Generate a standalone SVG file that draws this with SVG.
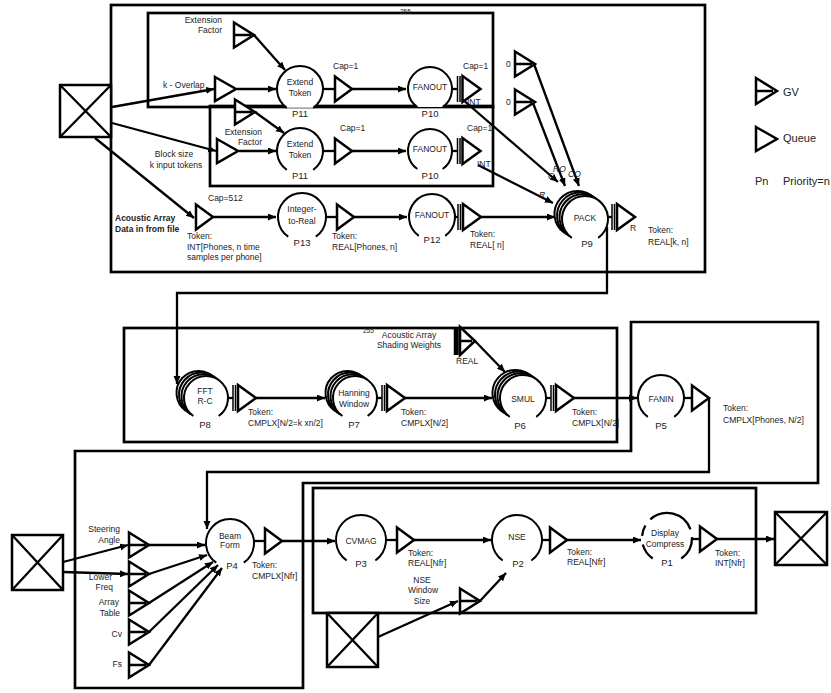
<svg xmlns="http://www.w3.org/2000/svg" width="831" height="693" viewBox="0 0 831 693">
<defs>
<marker id="ah" markerUnits="userSpaceOnUse" markerWidth="9" markerHeight="8" refX="8" refY="3.5" orient="auto"><path d="M0,0 L8,3.5 L0,7 Z" fill="#000"/></marker>
<g id="q"><path d="M0,-12.5 L17,0 L0,12.5 Z"/></g>
<g id="qw"><path d="M0,-12 L21,0 L0,12 Z"/></g>
<g id="gv"><path d="M0,-12.5 L20,0 L0,12.5 Z M0,0 H17"/></g>
<g id="tq"><path d="M-5,-13 V13 M-2.5,-13 V13" stroke-width="1.5"/><path d="M0,-13 L18,0 L0,13 Z"/></g>
</defs>
<style>
.box{fill:none;stroke:#000;stroke-width:2.7}
.sym{fill:#fff;stroke:#000;stroke-width:2.5}
.c{fill:#fff;stroke:#000;stroke-width:2}
.ln{stroke:#000;stroke-width:2.3;fill:none}
.ar{stroke:#000;stroke-width:2.3;fill:none;marker-end:url(#ah)}
.xb{fill:#fff;stroke:#000;stroke-width:2.5}
text{font-family:"Liberation Sans",Arial,sans-serif;font-size:8.5px;fill:#222}
.m{text-anchor:middle}
.e{text-anchor:end}
.p{font-size:9.5px}
.b{font-weight:bold}
.i{font-style:italic}
.lg{font-size:11px}
.s{font-size:6.5px}
</style>

<g id="frames">
<rect class="box" x="111" y="5" width="594" height="267"/>
<rect class="box" x="148" y="13" width="345" height="94"/>
<rect class="box" x="210" y="106" width="283" height="80"/>
<rect class="box" x="124" y="328" width="493" height="114"/>
<path class="box" d="M631,322 H818 V483 H303 V688 H75 V451 H631 Z"/>
<rect class="box" x="313" y="488" width="443" height="125"/>
</g>

<g id="connectors">
<line class="ar" x1="112" y1="107" x2="214" y2="89"/>
<line class="ar" x1="237" y1="89" x2="276" y2="89"/>
<line class="ar" x1="254" y1="35" x2="285" y2="70"/>
<line class="ln" x1="323" y1="89" x2="335" y2="89"/>
<line class="ar" x1="352" y1="89" x2="406" y2="89"/>
<line class="ln" x1="452" y1="89" x2="458" y2="89"/>
<line class="ar" x1="112" y1="123" x2="216" y2="151"/>
<line class="ar" x1="239" y1="151" x2="276" y2="151"/>
<line class="ar" x1="255" y1="112" x2="284" y2="133"/>
<line class="ln" x1="323" y1="151" x2="335" y2="151"/>
<line class="ar" x1="352" y1="151" x2="406" y2="151"/>
<line class="ln" x1="452" y1="151" x2="458" y2="151"/>
<line class="ar" x1="95" y1="138" x2="194" y2="218"/>
<line class="ar" x1="213" y1="217" x2="276" y2="217"/>
<line class="ln" x1="326" y1="217" x2="337" y2="217"/>
<line class="ar" x1="354" y1="217" x2="407" y2="217"/>
<line class="ln" x1="455" y1="217" x2="458" y2="217"/>
<line class="ar" x1="481" y1="217" x2="555" y2="217"/>
<line class="ar" x1="462" y1="99" x2="558" y2="182"/>
<line class="ar" x1="478" y1="165" x2="553" y2="203"/>
<line class="ar" x1="533" y1="103" x2="565" y2="186"/>
<line class="ar" x1="534" y1="64" x2="579" y2="186"/>
<line class="ln" x1="607" y1="217" x2="612" y2="217"/>
<path class="ar" d="M607,227 V293 H177 V384"/>
<line class="ln" x1="228" y1="398" x2="233" y2="398"/>
<line class="ar" x1="256" y1="398" x2="325" y2="398"/>
<line class="ln" x1="377" y1="398" x2="382" y2="398"/>
<line class="ar" x1="405" y1="398" x2="492" y2="398"/>
<line class="ar" x1="475" y1="341" x2="505" y2="372"/>
<line class="ln" x1="546" y1="398" x2="551" y2="398"/>
<line class="ar" x1="574" y1="398" x2="637" y2="398"/>
<line class="ln" x1="684" y1="398" x2="692" y2="398"/>
<path class="ar" d="M709,398 V472 H207 V529"/>
<line class="ar" x1="63" y1="562" x2="128" y2="545"/>
<line class="ar" x1="63" y1="572" x2="128" y2="574"/>
<line class="ar" x1="149" y1="545" x2="205" y2="545"/>
<line class="ar" x1="149" y1="574" x2="207" y2="555"/>
<line class="ar" x1="149" y1="603" x2="213" y2="562"/>
<line class="ar" x1="149" y1="632" x2="218" y2="565"/>
<line class="ar" x1="149" y1="665" x2="222" y2="568"/>
<line class="ln" x1="254" y1="541" x2="265" y2="541"/>
<line class="ar" x1="282" y1="541" x2="335" y2="541"/>
<line class="ln" x1="386" y1="540" x2="397" y2="540"/>
<line class="ar" x1="414" y1="540" x2="491" y2="540"/>
<line class="ln" x1="542" y1="540" x2="550" y2="540"/>
<line class="ar" x1="567" y1="540" x2="641" y2="540"/>
<line class="ln" x1="692" y1="539" x2="700" y2="539"/>
<line class="ar" x1="717" y1="539" x2="774" y2="539"/>
<line class="ar" x1="378" y1="637" x2="458" y2="601"/>
<line class="ar" x1="480" y1="601" x2="506" y2="573"/>
</g>

<g id="src-top"><rect class="xb" x="60" y="85" width="51" height="52"/><path class="ln" d="M60,85 L111,137 M111,85 L60,137"/></g>
<g id="gv-ext1"><use href="#gv" class="sym" x="234" y="35"/><text class="e" x="222" y="23">Extension</text><text class="e" x="222" y="33">Factor</text></g>
<g id="q-overlap"><use href="#qw" class="sym" x="215" y="89"/><text x="163" y="88">k - Overlap</text></g>
<g id="p11a"><path class="c" d="M286.8,107.84 A23 23 0 1 1 313.2,107.84"/><text class="m" x="300" y="85">Extend</text><text class="m" x="300" y="96">Token</text><text class="m p" x="300" y="117">P11</text></g>
<g id="q-cap1a"><use href="#q" class="sym" x="335" y="89"/><text x="333" y="69">Cap=1</text></g>
<g id="p10a"><path class="c" d="M417.37,107.02 A22 22 0 1 1 442.63,107.02"/><text class="m" x="430" y="90">FANOUT</text><text class="m p" x="430" y="117">P10</text></g>
<g id="tq-int1"><use href="#tq" class="sym" x="462.5" y="89"/><text x="463" y="69">Cap=1</text><text x="467" y="105">INT</text></g>

<g id="gv-ext2"><use href="#gv" class="sym" x="235" y="112"/><text class="e" x="262" y="135">Extension</text><text class="e" x="262" y="145">Factor</text></g>
<g id="q-block"><use href="#qw" class="sym" x="217" y="151"/><text class="m" x="174" y="157">Block size</text><text class="m" x="176" y="168">k input tokens</text></g>
<g id="p11b"><path class="c" d="M286.8,169.84 A23 23 0 1 1 313.2,169.84"/><text class="m" x="300" y="147">Extend</text><text class="m" x="300" y="158">Token</text><text class="m p" x="300" y="179">P11</text></g>
<g id="q-cap1b"><use href="#q" class="sym" x="335" y="151"/><text x="340" y="131">Cap=1</text></g>
<g id="p10b"><path class="c" d="M417.37,169.02 A22 22 0 1 1 442.63,169.02"/><text class="m" x="430" y="152">FANOUT</text><text class="m p" x="430" y="179">P10</text></g>
<g id="tq-int2"><use href="#tq" class="sym" x="462.5" y="151"/><text x="467" y="131">Cap=1</text><text x="477" y="167">INT</text></g>

<g id="q-cap512"><use href="#q" class="sym" x="196" y="217"/><text x="208" y="201">Cap=512</text><text x="187" y="239">Token:</text><text x="187" y="250">INT[Phones, n time</text><text x="187" y="260">samples per phone]</text></g>
<g id="lbl-acoustic"><text class="b" x="115" y="221">Acoustic Array</text><text class="b" x="115" y="232">Data in from file</text></g>
<text class="s" x="400" y="14">255</text>
<g id="p13"><path class="c" d="M288.22,236.66 A24 24 0 1 1 315.78,236.66"/><text class="m" x="302" y="212">Integer-</text><text class="m" x="302" y="224">to-Real</text><text class="m p" x="302" y="246">P13</text></g>
<g id="q-real1"><use href="#q" class="sym" x="337" y="217"/><text x="332" y="239">Token:</text><text x="332" y="250">REAL[Phones, n]</text></g>
<g id="p12"><path class="c" d="M418.8,235.84 A23 23 0 1 1 445.2,235.84"/><text class="m" x="432" y="218">FANOUT</text><text class="m p" x="432" y="243">P12</text></g>
<g id="tq-real2"><use href="#tq" class="sym" x="463" y="217"/><text x="470" y="237">Token:</text><text x="470" y="248">REAL[ n]</text></g>
<g id="gv-0a"><use href="#gv" class="sym" x="515" y="64"/><text x="506" y="67">0</text></g>
<g id="gv-0b"><use href="#gv" class="sym" x="515" y="102"/><text x="506" y="105">0</text></g>
<g id="p9">
<path class="c" d="M564.3,232.74 A23 23 0 1 1 590.7,232.74"/>
<path class="c" d="M566.8,234.44 A23 23 0 1 1 593.2,234.44"/>
<path class="c" d="M569.3,236.14 A23 23 0 1 1 595.7,236.14"/>
<path class="c" d="M571.8,237.84 A23 23 0 1 1 598.2,237.84"/>
<text class="m" x="585" y="221">PACK</text><text class="m p" x="587" y="247">P9</text>
<text class="i" x="553" y="172">RO</text><text class="i" x="568" y="177">CO</text><text class="i" x="548" y="179">C</text><text class="i" x="539" y="198">R</text>
</g>
<g id="tq-pack"><use href="#tq" class="sym" x="617" y="217"/><text x="630" y="231">R</text><text x="648" y="233">Token:</text><text x="648" y="245">REAL[k, n]</text></g>

<g id="legend">
<path class="sym" d="M756,78 L777,91 L756,104 Z M756,91 H773"/><text class="lg" x="783" y="96">GV</text>
<path class="sym" d="M756,127 L777,139 L756,151 Z"/><text class="lg" x="783" y="142">Queue</text>
<text class="lg" x="755" y="185">Pn</text><text class="lg" x="783" y="185">Priority=n</text>
</g>

<g id="p8">
<path class="c" d="M185.87,410.92 A22 22 0 1 1 211.13,410.92"/>
<path class="c" d="M188.37,412.62 A22 22 0 1 1 213.63,412.62"/>
<path class="c" d="M190.87,414.32 A22 22 0 1 1 216.13,414.32"/>
<path class="c" d="M193.37,416.02 A22 22 0 1 1 218.63,416.02"/>
<text class="m" x="205" y="394">FFT</text><text class="m" x="205" y="404">R-C</text><text class="m p" x="205" y="428">P8</text>
</g>
<g id="tq-fft"><use href="#tq" class="sym" x="238" y="398"/><text x="248" y="415">Token:</text><text x="248" y="426">CMPLX[N/2=k xn/2]</text></g>
<g id="p7">
<path class="c" d="M334.87,410.92 A22 22 0 1 1 360.13,410.92"/>
<path class="c" d="M337.37,412.62 A22 22 0 1 1 362.63,412.62"/>
<path class="c" d="M339.87,414.32 A22 22 0 1 1 365.13,414.32"/>
<path class="c" d="M342.37,416.02 A22 22 0 1 1 367.63,416.02"/>
<text class="m" x="354" y="396">Hanning</text><text class="m" x="354" y="407">Window</text><text class="m p" x="354" y="428">P7</text>
</g>
<g id="tq-hann"><use href="#tq" class="sym" x="387" y="398"/><text x="401" y="415">Token:</text><text x="401" y="426">CMPLX[N/2]</text></g>
<g id="gv-real"><path class="sym" d="M455,327 V355 M457.5,327 V355" stroke-width="1.5"/><path class="sym" d="M460,327 L475,341 L460,355 Z M460,341 H472"/><text x="456" y="364">REAL</text></g>
<g id="lbl-shading"><text class="s" x="363" y="333">255</text><text class="m" x="409" y="338">Acoustic Array</text><text class="m" x="409" y="348">Shading Weights</text></g>
<g id="p6">
<path class="c" d="M502.3,411.74 A23 23 0 1 1 528.7,411.74"/>
<path class="c" d="M504.8,413.44 A23 23 0 1 1 531.2,413.44"/>
<path class="c" d="M507.3,415.14 A23 23 0 1 1 533.7,415.14"/>
<path class="c" d="M509.8,416.84 A23 23 0 1 1 536.2,416.84"/>
<text class="m" x="523" y="402">SMUL</text><text class="m p" x="520" y="429">P6</text>
</g>
<g id="tq-smul"><use href="#tq" class="sym" x="556" y="398"/><text x="572" y="415">Token:</text><text x="572" y="426">CMPLX[N/2]</text></g>
<g id="p5"><path class="c" d="M647.8,416.84 A23 23 0 1 1 674.2,416.84"/><text class="m" x="661" y="402">FANIN</text><text class="m p" x="661" y="429">P5</text></g>
<g id="q-fanin"><use href="#q" class="sym" x="692" y="398"/><text x="723" y="411">Token:</text><text x="723" y="423">CMPLX[Phones, N/2]</text></g>

<g id="src-left"><rect class="xb" x="12" y="535" width="51" height="55"/><path class="ln" d="M12,535 L63,590 M63,535 L12,590"/></g>
<g id="gv-steer"><use href="#gv" class="sym" x="129" y="545"/><text class="e" x="120" y="532">Steering</text><text class="e" x="120" y="543">Angle</text></g>
<g id="gv-lower"><use href="#gv" class="sym" x="129" y="574"/><text class="e" x="112" y="580">Lower</text><text class="e" x="113" y="590">Freq</text></g>
<g id="gv-array"><use href="#gv" class="sym" x="129" y="603"/><text class="e" x="119" y="605">Array</text><text class="e" x="120" y="616">Table</text></g>
<g id="gv-cv"><use href="#gv" class="sym" x="129" y="632"/><text class="e" x="122" y="637">Cv</text></g>
<g id="gv-fs"><use href="#gv" class="sym" x="129" y="665"/><text class="e" x="122" y="667">Fs</text></g>
<g id="p4"><path class="c" d="M216.22,562.66 A24 24 0 1 1 243.78,562.66"/><text class="m" x="230" y="539">Beam</text><text class="m" x="230" y="548">Form</text><text class="m p" x="232" y="569">P4</text></g>
<g id="q-beam"><use href="#q" class="sym" x="265" y="541"/><text x="252" y="568">Token:</text><text x="252" y="579">CMPLX[Nfr]</text></g>
<g id="p3"><path class="c" d="M346.65,560.48 A25 25 0 1 1 375.35,560.48"/><text class="m" x="361" y="544">CVMAG</text><text class="m p" x="361" y="567">P3</text></g>
<g id="q-cvmag"><use href="#q" class="sym" x="397" y="540"/><text x="408" y="556">Token:</text><text x="408" y="566">REAL[Nfr]</text></g>
<g id="p2"><path class="c" d="M502.65,560.48 A25 25 0 1 1 531.35,560.48"/><text class="m" x="517" y="540">NSE</text><text class="m p" x="518" y="567">P2</text></g>
<g id="gv-nse"><use href="#gv" class="sym" x="460" y="601"/><text class="m" x="422" y="583">NSE</text><text class="m" x="423" y="593">Window</text><text class="m" x="422" y="604">Size</text></g>
<g id="src-bottom"><rect class="xb" x="327" y="613" width="51" height="54"/><path class="ln" d="M327,613 L378,667 M378,613 L327,667"/></g>
<g id="q-nse"><use href="#q" class="sym" x="550" y="540"/><text x="567" y="555">Token:</text><text x="567" y="565">REAL[Nfr]</text></g>
<g id="p1"><circle cx="667" cy="538" r="25" fill="#fff"/><path class="ln" stroke-width="2" d="M652.7,558.5 A25 25 0 0 1 642.8,544.5 M642.1,535.8 A25 25 0 0 1 645.4,525.5 M650.3,519.4 A25 25 0 0 1 690.5,529.4 M692,537.1 A25 25 0 0 1 681.3,558.5"/><text class="m" x="665" y="536">Display</text><text class="m" x="665" y="547">Compress</text><text class="m p" x="667" y="566">P1</text></g>
<g id="q-disp"><use href="#q" class="sym" x="700" y="539"/><text x="715" y="556">Token:</text><text x="715" y="566">INT[Nfr]</text></g>
<g id="sink-right"><rect class="xb" x="775" y="512" width="52" height="53"/><path class="ln" d="M775,512 L827,565 M827,512 L775,565"/></g>
</svg>
